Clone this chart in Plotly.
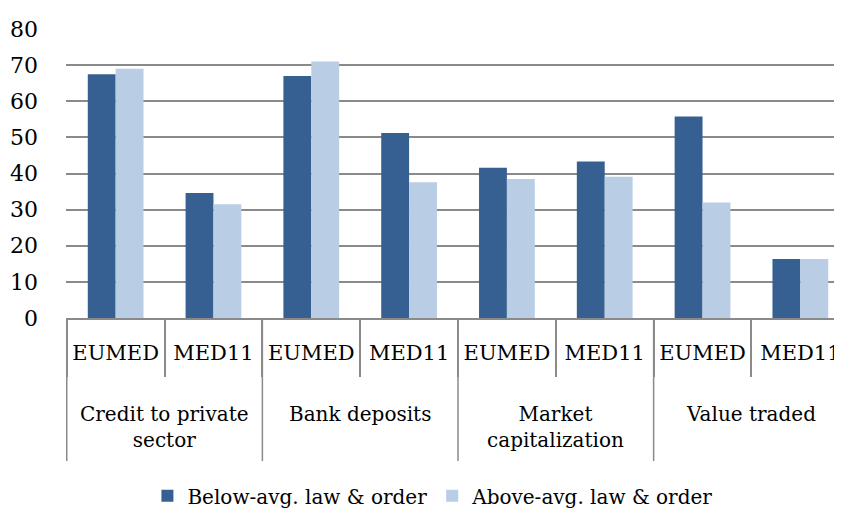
import plotly.graph_objects as go

groups = ["Credit to private<br>sector", "Bank deposits", "Market<br>capitalization", "Value traded"]
regions = ["EUMED", "MED11"]
below_avg = [67.5, 34.6, 67.0, 51.2, 41.6, 43.3, 55.8, 16.3]
above_avg = [69.0, 31.5, 71.0, 37.6, 38.5, 39.1, 32.0, 16.3]
series_names = ["Below-avg. law & order", "Above-avg. law & order"]
y_ticks = [0, 10, 20, 30, 40, 50, 60, 70, 80]

FONT = "DejaVu Serif"
FS = 20
GRAY = "#8a8a8a"

x_ids = [f"{g}|{r}" for g in groups for r in regions]
x_text = [r for g in groups for r in regions]

fig = go.Figure()
fig.add_trace(go.Bar(x=x_ids, y=below_avg, name=series_names[0],
                     marker=dict(color="#366092", line=dict(width=0))))
fig.add_trace(go.Bar(x=x_ids, y=above_avg, name=series_names[1],
                     marker=dict(color="#B9CDE5", line=dict(width=0))))

n = len(regions)
for i, g in enumerate(groups):
    center = i * n + (n - 1) / 2
    fig.add_annotation(x=center, y=-0.285, xref="x", yref="paper", text=g,
                       showarrow=False, yanchor="top", xanchor="center",
                       font=dict(family=FONT, size=FS, color="black"))
for i in range(len(groups) + 1):
    xb = i * n - 0.5
    fig.add_shape(type="line", xref="x", yref="paper", x0=xb, x1=xb, y0=0, y1=-0.495,
                  line=dict(color=GRAY, width=1.5))

fig.update_layout(
    width=842, height=508,
    margin=dict(l=58, r=0, t=21, b=192),
    paper_bgcolor="white", plot_bgcolor="white",
    barmode="group", bargap=0.43, bargroupgap=0,
    font=dict(family=FONT, size=FS, color="black"),
    showlegend=True,
    legend=dict(orientation="h", x=0.468, xanchor="center", y=-0.615, yanchor="middle",
                font=dict(family=FONT, size=FS), itemwidth=30, tracegroupgap=0),
    xaxis=dict(type="category", tickmode="array", tickvals=x_ids, ticktext=x_text,
               tickson="boundaries", ticks="outside", ticklen=57, tickwidth=1.5,
               tickcolor=GRAY, ticklabelstandoff=15,
               showline=True, linecolor=GRAY, linewidth=2, showgrid=False,
               tickfont=dict(family=FONT, size=21)),
    yaxis=dict(range=[0, 80], tickvals=y_ticks, showgrid=True, gridcolor=GRAY,
               gridwidth=1.5, zeroline=False, showline=False, ticks="",
               ticklabelstandoff=27, tickfont=dict(family=FONT, size=22)),
)

fig.write_html("out.html")
